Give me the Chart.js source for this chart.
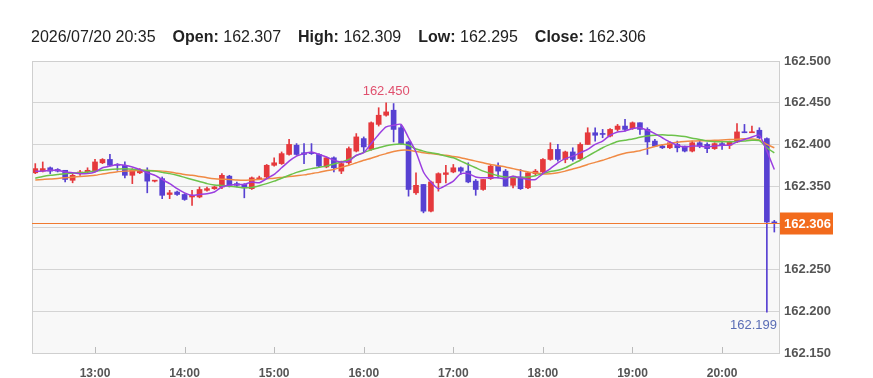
<!DOCTYPE html>
<html>
<head>
<meta charset="utf-8">
<script src="https://cdn.jsdelivr.net/npm/chart.js@4/dist/chart.umd.min.js"></script>
<style>
  body { margin: 0; background: #fff; font-family: "Liberation Sans", Arial, sans-serif; }
  #wrap { position: relative; width: 873px; height: 378px; }
  #info { position: absolute; left: 31px; top: 27px; font-size: 16px; line-height: 20px; color: #222; white-space: nowrap; }
  #info span { margin-right: 17px; }
  canvas { position: absolute; left: 0; top: 0; }
</style>
</head>
<body>
<div id="wrap">
  <canvas id="fxChart" width="873" height="378"></canvas>
  <div id="info"></div>
</div>
<script>
// 5-minute candles, 2026/07/20
const dateLabel = "2026/07/20";
const times = [
  "12:20","12:25","12:30","12:35","12:40","12:45","12:50","12:55",
  "13:00","13:05","13:10","13:15","13:20","13:25","13:30","13:35","13:40","13:45","13:50","13:55",
  "14:00","14:05","14:10","14:15","14:20","14:25","14:30","14:35","14:40","14:45","14:50","14:55",
  "15:00","15:05","15:10","15:15","15:20","15:25","15:30","15:35","15:40","15:45","15:50","15:55",
  "16:00","16:05","16:10","16:15","16:20","16:25","16:30","16:35","16:40","16:45","16:50","16:55",
  "17:00","17:05","17:10","17:15","17:20","17:25","17:30","17:35","17:40","17:45","17:50","17:55",
  "18:00","18:05","18:10","18:15","18:20","18:25","18:30","18:35","18:40","18:45","18:50","18:55",
  "19:00","19:05","19:10","19:15","19:20","19:25","19:30","19:35","19:40","19:45","19:50","19:55",
  "20:00","20:05","20:10","20:15","20:20","20:25","20:30","20:35"
];

const opens = [
  162.366,162.368,162.372,162.370,162.369,162.357,162.365,162.367,162.368,162.378,
  162.382,162.376,162.375,162.363,162.366,162.368,162.356,162.359,162.340,162.343,
  162.340,162.337,162.337,162.345,162.347,162.349,162.362,162.353,162.352,162.347,
  162.358,162.361,162.375,162.377,162.388,162.399,162.390,162.390,162.388,162.373,
  162.384,162.368,162.378,162.392,162.407,162.394,162.424,162.435,162.441,162.420,
  162.403,162.342,162.352,162.320,162.354,162.364,162.367,162.372,162.368,162.356,
  162.346,162.359,162.374,162.368,162.351,162.361,162.348,162.365,162.367,162.382,
  162.394,162.382,162.391,162.383,162.400,162.414,162.413,162.410,162.418,162.422,
  162.419,162.426,162.418,162.404,162.398,162.396,162.400,162.398,162.392,162.402,
  162.400,162.395,162.401,162.399,162.403,162.415,162.414,162.417,162.407,162.307
];
const highs = [
  162.377,162.379,162.373,162.371,162.369,162.365,162.369,162.372,162.382,162.383,
  162.388,162.377,162.379,162.371,162.371,162.372,162.357,162.361,162.345,162.344,
  162.341,162.345,162.349,162.349,162.350,162.365,162.363,162.355,162.353,162.361,
  162.362,162.376,162.384,162.391,162.406,162.401,162.401,162.401,162.389,162.385,
  162.385,162.380,162.397,162.413,162.409,162.427,162.444,162.450,162.449,162.423,
  162.404,162.366,162.352,162.356,162.366,162.375,162.376,162.373,162.378,162.358,
  162.358,162.375,162.378,162.370,162.362,162.370,162.367,162.370,162.383,162.402,
  162.400,162.392,162.396,162.402,162.420,162.420,162.418,162.419,162.424,162.430,
  162.427,162.426,162.420,162.406,162.400,162.403,162.404,162.398,162.404,162.404,
  162.402,162.402,162.404,162.404,162.425,162.424,162.422,162.420,162.408,162.309
];
const lows = [
  162.365,162.367,162.365,162.367,162.355,162.354,162.363,162.366,162.367,162.377,
  162.374,162.369,162.360,162.353,162.365,162.342,162.355,162.335,162.335,162.339,
  162.333,162.327,162.336,162.344,162.346,162.347,162.349,162.349,162.336,162.346,
  162.358,162.360,162.374,162.376,162.387,162.387,162.377,162.388,162.373,162.372,
  162.367,162.365,162.376,162.391,162.391,162.393,162.422,162.434,162.403,162.400,
  162.338,162.340,162.318,162.319,162.344,162.354,162.366,162.364,162.354,162.339,
  162.345,162.358,162.360,162.350,162.348,162.346,162.347,162.363,162.366,162.381,
  162.380,162.378,162.380,162.382,162.400,162.404,162.408,162.409,162.416,162.416,
  162.418,162.412,162.388,162.398,162.395,162.395,162.391,162.391,162.391,162.396,
  162.390,162.394,162.394,162.395,162.402,162.414,162.414,162.407,162.199,162.295
];
const closes = [
  162.371,162.371,162.368,162.368,162.358,162.363,162.367,162.369,162.379,162.382,
  162.375,162.375,162.363,162.369,162.369,162.356,162.357,162.339,162.342,162.340,
  162.334,162.339,162.346,162.347,162.349,162.363,162.351,162.351,162.348,162.360,
  162.360,162.375,162.378,162.389,162.400,162.388,162.388,162.389,162.374,162.384,
  162.372,162.377,162.395,162.409,162.397,162.426,162.435,162.439,162.418,162.401,
  162.346,162.351,162.320,162.355,162.365,162.366,162.372,162.368,162.355,162.346,
  162.358,162.374,162.368,162.350,162.361,162.347,162.366,162.368,162.382,162.394,
  162.382,162.391,162.382,162.400,162.414,162.411,162.412,162.418,162.422,162.418,
  162.426,162.418,162.403,162.398,162.396,162.402,162.396,162.392,162.402,162.398,
  162.395,162.401,162.399,162.403,162.415,162.414,162.415,162.408,162.307,162.306
];

// moving averages
const maShort = [
  162.368,162.368,162.369,162.369,162.367,162.366,162.365,162.365,162.367,162.372,
  162.374,162.376,162.375,162.373,162.370,162.366,162.363,162.358,162.353,162.347,
  162.342,162.339,162.340,162.341,162.343,162.349,162.351,162.352,162.352,162.355,
  162.354,162.359,162.364,162.372,162.380,162.386,162.389,162.391,162.388,162.385,
  162.381,162.379,162.380,162.387,162.390,162.401,162.412,162.421,162.423,162.424,
  162.408,162.391,162.367,162.355,162.347,162.351,162.356,162.365,162.365,162.361,
  162.360,162.360,162.360,162.359,162.362,162.360,162.358,162.358,162.365,162.371,
  162.378,162.383,162.386,162.390,162.394,162.400,162.404,162.411,162.415,162.416,
  162.419,162.420,162.417,162.413,162.408,162.403,162.399,162.397,162.398,162.398,
  162.397,162.398,162.399,162.399,162.403,162.406,162.409,162.411,162.392,162.370
];
const maMid = [
  162.3595,162.3615,162.363,162.364,162.365,162.3655,162.366,162.367,162.368,162.369,
  162.370,162.3705,162.3708,162.3703,162.3695,162.3688,162.368,162.3665,162.365,162.363,
  162.3605,162.358,162.3555,162.353,162.3515,162.3508,162.350,162.349,162.348,162.3485,
  162.3505,162.353,162.356,162.3595,162.363,162.3665,162.369,162.371,162.3725,162.374,
  162.3765,162.379,162.382,162.3865,162.3905,162.3935,162.396,162.3985,162.400,162.4005,
  162.399,162.3945,162.392,162.390,162.3885,162.386,162.384,162.380,162.376,162.372,
  162.368,162.365,162.3625,162.361,162.3605,162.3605,162.361,162.3625,162.365,162.3675,
  162.369,162.372,162.3765,162.381,162.386,162.391,162.396,162.400,162.4035,162.405,
  162.4065,162.4085,162.410,162.411,162.4115,162.411,162.4105,162.4095,162.4075,162.406,
  162.404,162.4033,162.4032,162.4033,162.4036,162.4042,162.405,162.4045,162.396,162.390
];
const maLong = [
  162.3575,162.358,162.3585,162.3593,162.360,162.3608,162.3615,162.3623,162.363,162.3645,
  162.366,162.3673,162.368,162.3685,162.3688,162.3688,162.3685,162.368,162.367,162.3655,
  162.364,162.363,162.3615,162.360,162.3588,162.3583,162.358,162.3573,162.357,162.3575,
  162.358,162.3588,162.3595,162.3605,162.3615,162.3625,162.3635,162.365,162.3665,162.3685,
  162.370,162.3725,162.375,162.378,162.381,162.3835,162.3865,162.389,162.3915,162.393,
  162.393,162.3915,162.390,162.389,162.388,162.387,162.3855,162.384,162.382,162.380,
  162.378,162.376,162.3745,162.373,162.371,162.369,162.367,162.366,162.3645,162.365,
  162.366,162.368,162.3705,162.373,162.376,162.3785,162.381,162.384,162.387,162.3895,
  162.391,162.3925,162.395,162.3975,162.3995,162.401,162.4025,162.4035,162.404,162.4043,
  162.4047,162.405,162.4053,162.4058,162.4063,162.4067,162.4065,162.4055,162.400,162.396
];

const xTickTimes = ["13:00","14:00","15:00","16:00","17:00","18:00","19:00","20:00"];
const yTickValues = [162.15, 162.2, 162.25, 162.3, 162.35, 162.4, 162.45, 162.5];

// minutes after 12:00
const toMin = (t) => { const [h, m] = t.split(":").map(Number); return (h - 12) * 60 + m; };
const mins = times.map(toMin);

const UP = "#e5393d";
const DOWN = "#5741d2";
const candleColors = opens.map((o, i) => (closes[i] >= o ? UP : DOWN));

const last = times.length - 1;
const fmt = (v) => v.toFixed(3);
document.getElementById("info").innerHTML =
  `<span>${dateLabel} ${times[last]}</span>` +
  `<span><b>Open:</b> ${fmt(opens[last])}</span>` +
  `<span><b>High:</b> ${fmt(highs[last])}</span>` +
  `<span><b>Low:</b> ${fmt(lows[last])}</span>` +
  `<span><b>Close:</b> ${fmt(closes[last])}</span>`;

const FONT = '"Liberation Sans", Arial, sans-serif';

// plot background, frame, price line, hi/lo labels
const decorations = {
  id: "decorations",
  beforeDraw(chart) {
    const { ctx, chartArea: a } = chart;
    ctx.save();
    ctx.fillStyle = "#f8f8f8";
    ctx.fillRect(a.left, a.top, a.right - a.left, a.bottom - a.top);
    ctx.restore();
  },
  afterDraw(chart) {
    const { ctx, chartArea: a, scales } = chart;
    const x = scales.x, y = scales.y;
    ctx.save();
    // frame
    ctx.strokeStyle = "#cfcfcf";
    ctx.lineWidth = 1;
    ctx.strokeRect(a.left + 0.5, a.top + 0.5, a.right - a.left - 1, a.bottom - a.top);
    // x tick marks inside the bottom edge
    ctx.strokeStyle = "#bbbbbb";
    xTickTimes.forEach((t) => {
      const px = Math.round(x.getPixelForValue(toMin(t))) + 0.5;
      ctx.beginPath();
      ctx.moveTo(px, a.bottom - 6);
      ctx.lineTo(px, a.bottom);
      ctx.stroke();
    });
    // current price line + label
    const py = Math.round(y.getPixelForValue(closes[last])) + 0.5;
    ctx.strokeStyle = "#f07a30";
    ctx.beginPath();
    ctx.moveTo(a.left, py);
    ctx.lineTo(a.right, py);
    ctx.stroke();
    ctx.fillStyle = "#f26b1d";
    ctx.fillRect(a.right, py - 11, 53, 22);
    ctx.fillStyle = "#fff";
    ctx.font = `bold 13px ${FONT}`;
    ctx.textBaseline = "middle";
    ctx.textAlign = "left";
    ctx.fillText(fmt(closes[last]), a.right + 4, py + 1);
    // highest high / lowest low
    const hi = highs.indexOf(Math.max(...highs));
    const lo = lows.indexOf(Math.min(...lows));
    ctx.font = `13px ${FONT}`;
    ctx.textAlign = "center";
    ctx.textBaseline = "bottom";
    ctx.fillStyle = "#e0506e";
    ctx.fillText(fmt(highs[hi]), x.getPixelForValue(mins[hi]), y.getPixelForValue(highs[hi]) - 5);
    const loText = fmt(lows[lo]);
    const w = ctx.measureText(loText).width;
    const lx = Math.min(x.getPixelForValue(mins[lo]), a.right - 3 - w / 2);
    ctx.textBaseline = "top";
    ctx.fillStyle = "#5a6db5";
    ctx.fillText(loText, lx, y.getPixelForValue(lows[lo]) + 7);
    ctx.restore();
  }
};

const ctx = document.getElementById("fxChart").getContext("2d");

const fxChart = new Chart(ctx, {
  type: "bar",
  data: {
    datasets: [
      {
        type: "line",
        data: mins.map((m, i) => ({ x: m, y: maShort[i] })),
        borderColor: "#9b3fe0",
        borderWidth: 1.5,
        pointRadius: 0,
        tension: 0.2,
        order: 0,
      },
      {
        type: "line",
        data: mins.map((m, i) => ({ x: m, y: maMid[i] })),
        borderColor: "#6cc24a",
        borderWidth: 1.5,
        pointRadius: 0,
        tension: 0.2,
        order: 0,
      },
      {
        type: "line",
        data: mins.map((m, i) => ({ x: m, y: maLong[i] })),
        borderColor: "#f08a44",
        borderWidth: 1.5,
        pointRadius: 0,
        tension: 0.2,
        order: 0,
      },
      {
        // bodies
        data: mins.map((m, i) => ({ x: m, y: [opens[i], closes[i]] })),
        backgroundColor: candleColors,
        barThickness: 5,
        minBarLength: 1,
        grouped: false,
        order: 1,
      },
      {
        // wicks
        data: mins.map((m, i) => ({ x: m, y: [lows[i], highs[i]] })),
        backgroundColor: candleColors,
        barThickness: 1,
        grouped: false,
        order: 2,
      },
    ],
  },
  options: {
    responsive: false,
    animation: false,
    layout: { padding: { left: 32, top: 61, right: 0, bottom: 0 } },
    plugins: {
      legend: { display: false },
      tooltip: { enabled: false },
    },
    scales: {
      x: {
        type: "linear",
        min: 17.8,
        max: 518.8,
        offset: false,
        grid: { display: false },
        border: { display: false },
        afterBuildTicks: (s) => { s.ticks = xTickTimes.map((t) => ({ value: toMin(t) })); },
        afterFit: (s) => { s.height = 25; },
        ticks: {
          autoSkip: false,
          maxRotation: 0,
          padding: 5,
          color: "#555",
          font: { family: FONT, size: 12, weight: "bold" },
          callback: (v) => `${12 + Math.floor(v / 60)}:00`,
        },
      },
      y: {
        position: "right",
        min: 162.15,
        max: 162.5,
        grid: { color: "#d4d4d4", drawTicks: false },
        border: { display: false },
        afterBuildTicks: (s) => { s.ticks = yTickValues.map((v) => ({ value: v })); },
        afterFit: (s) => { s.width = 93; },
        ticks: {
          padding: 4,
          color: "#555",
          font: { family: FONT, size: 13, weight: "bold" },
          callback: (v) => (Math.abs(v - closes[last]) < 0.012 ? "" : v.toFixed(3)),
        },
      },
    },
  },
  plugins: [decorations],
});
</script>
</body>
</html>
